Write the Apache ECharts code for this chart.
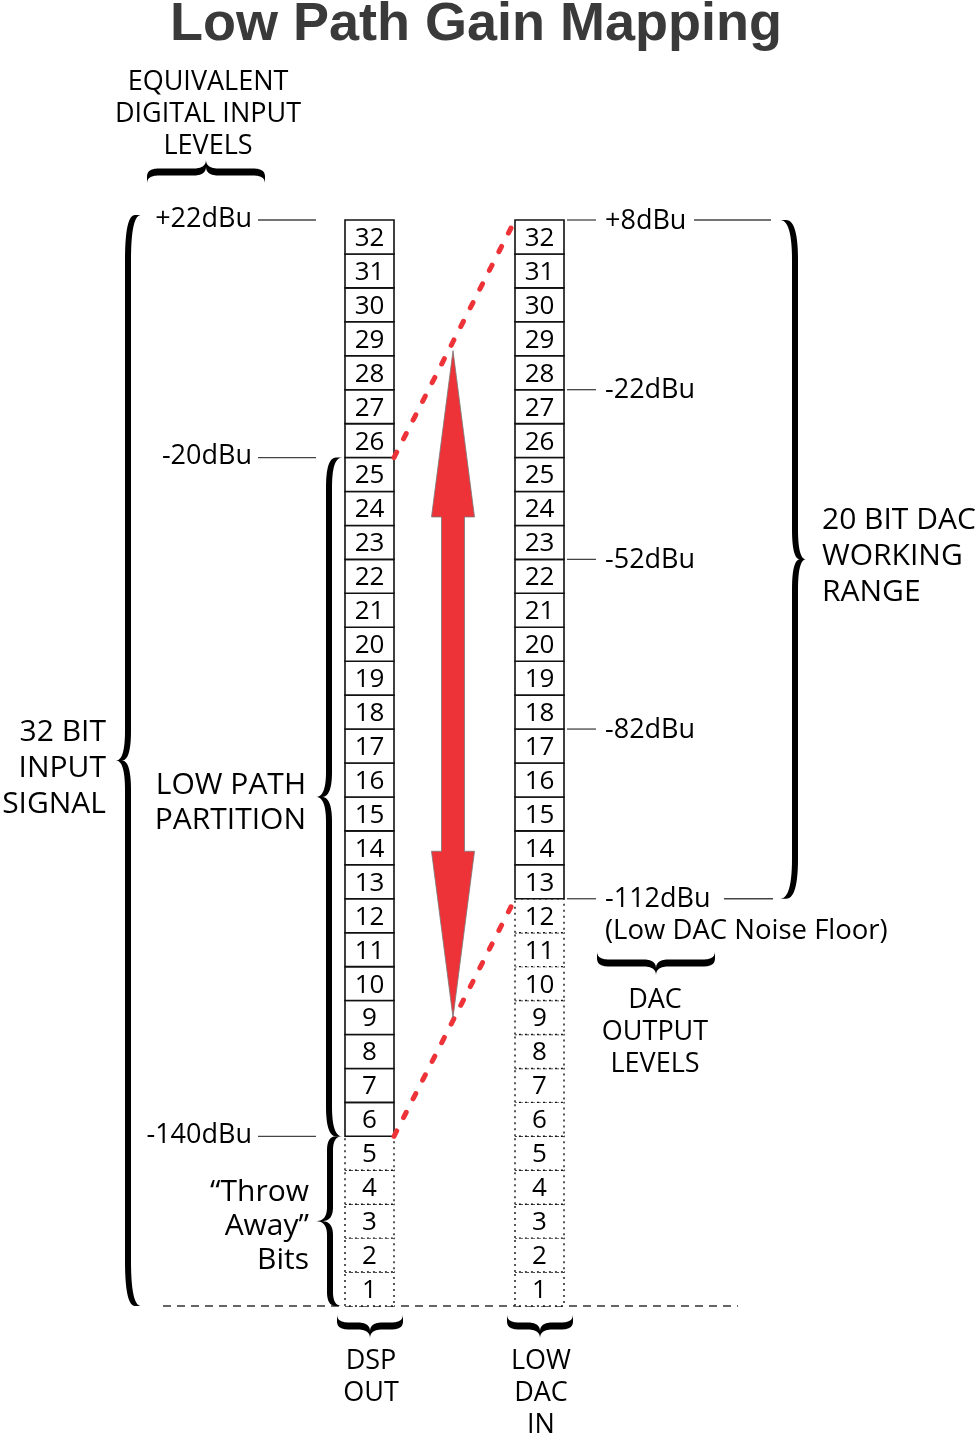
<!DOCTYPE html>
<html>
<head>
<meta charset="utf-8">
<script src="https://cdn.jsdelivr.net/npm/echarts@6/dist/echarts.min.js"></script>
<style>
  html, body { margin: 0; padding: 0; background: #fff; }
  #main { width: 980px; height: 1434px; }
</style>
</head>
<body>
<div id="main"></div>
<script>
// ---- data ----
var bitNumbers = [1, 2, 3, 4, 5, 6, 7, 8, 9, 10, 11, 12, 13, 14, 15, 16,
                  17, 18, 19, 20, 21, 22, 23, 24, 25, 26, 27, 28, 29, 30, 31, 32];
var dspFirstUsedBit = 6;   // bits 1-5 are "throw away"
var dacFirstUsedBit = 13;  // bits 1-12 below DAC noise floor
var inputLevelBits = [32, 25, 5];
var inputLevelLabels = ['+22dBu', '-20dBu', '-140dBu'];
var outputLevelBits = [32, 27, 22, 17, 12];
var outputLevelLabels = ['+8dBu', '-22dBu', '-52dBu', '-82dBu', '-112dBu'];
var mappingFromBits = [25, 5];   // DSP side
var mappingToBits = [32, 12];    // DAC side
var arrowLevels = [28.15, 23.25, 13.4, 8.5]; // tip, head base, head base, tip
var braceSpans = [[0, 32], [5, 25], [0, 5], [12, 32]];

// ---- layout ----
var FONT = '"Open Sans", sans-serif';
var RED = '#ee3338';
var columns = [[345, 394], [515, 564]];
var firstUsed = [dspFirstUsedBit, dacFirstUsedBit];
var outputTails = { 0: [694, 771], 4: [724, 773] };

var chart = echarts.init(document.getElementById('main'));

var cellData = [];
columns.forEach(function (c, ci) {
  bitNumbers.forEach(function (b) { cellData.push([ci, b]); });
});

function renderCell(params, api) {
  var ci = api.value(0), bit = api.value(1), col = columns[ci];
  var tl = api.coord([col[0], bit]);
  var br = api.coord([col[1], bit - 1]);
  var used = bit >= firstUsed[ci];
  return {
    type: 'group',
    children: [{
      type: 'rect',
      shape: { x: tl[0], y: tl[1], width: br[0] - tl[0], height: br[1] - tl[1] },
      style: { fill: '#fff', stroke: '#111', lineWidth: used ? 1.6 : 1.4, lineDash: used ? null : [2, 4] }
    }, {
      type: 'text',
      style: {
        text: String(bit), x: (tl[0] + br[0]) / 2, y: (tl[1] + br[1]) / 2 + 1.5,
        align: 'center', verticalAlign: 'middle', font: '26px ' + FONT, fill: '#000'
      }
    }]
  };
}

function renderInputLevel(params, api) {
  var y = api.coord([0, api.value(0)])[1];
  return {
    type: 'group',
    children: [{
      type: 'line', shape: { x1: 258, y1: y, x2: 316, y2: y },
      style: { stroke: '#444', lineWidth: 1.3 }
    }, {
      type: 'text',
      style: {
        text: inputLevelLabels[params.dataIndex], x: 252, y: y - 1,
        align: 'right', verticalAlign: 'middle', font: '27px ' + FONT, fill: '#000'
      }
    }]
  };
}

function renderOutputLevel(params, api) {
  var y = api.coord([0, api.value(0)])[1];
  var kids = [{
    type: 'line', shape: { x1: 567, y1: y, x2: 596, y2: y },
    style: { stroke: '#444', lineWidth: 1.3 }
  }, {
    type: 'text',
    style: {
      text: outputLevelLabels[params.dataIndex], x: 605, y: y + 1,
      align: 'left', verticalAlign: 'middle', font: '27px ' + FONT, fill: '#000'
    }
  }];
  var tail = outputTails[params.dataIndex];
  if (tail) {
    kids.push({
      type: 'line', shape: { x1: tail[0], y1: y, x2: tail[1], y2: y },
      style: { stroke: '#444', lineWidth: 1.3 }
    });
  }
  return { type: 'group', children: kids };
}

function renderMapping(params, api) {
  var a = api.coord([columns[0][1], api.value(0)]);
  var b = api.coord([columns[1][0], api.value(1)]);
  return {
    type: 'line',
    shape: { x1: a[0], y1: a[1], x2: b[0] - 4, y2: b[1] + 8 },
    style: { stroke: RED, lineWidth: 5, lineDash: [6, 15], lineCap: 'round' }
  };
}

function renderArrow(params, api) {
  var cx = 453, hw = 21.5, sw = 11.5;
  var y = [0, 1, 2, 3].map(function (i) { return api.coord([cx, api.value(i)])[1]; });
  var pts = [
    [cx, y[0]], [cx + hw, y[1]], [cx + sw, y[1]], [cx + sw, y[2]], [cx + hw, y[2]],
    [cx, y[3]], [cx - hw, y[2]], [cx - sw, y[2]], [cx - sw, y[1]], [cx - hw, y[1]]
  ];
  return {
    type: 'polygon', shape: { points: pts },
    style: { fill: RED, stroke: '#777', lineWidth: 0.8 }
  };
}

// brace centre line: u along the brace, c across (curls at +w, tip at -d)
function braceLine(L, w, d, r, r2) {
  var pts = [[0, w]];
  function quad(p0, p1, p2) {
    for (var i = 1; i <= 14; i++) {
      var t = i / 14, a = (1 - t) * (1 - t), b = 2 * t * (1 - t), e = t * t;
      pts.push([a * p0[0] + b * p1[0] + e * p2[0], a * p0[1] + b * p1[1] + e * p2[1]]);
    }
  }
  quad([0, w], [0, 0], [r, 0]);
  pts.push([L / 2 - r2, 0]);
  quad([L / 2 - r2, 0], [L / 2, 0], [L / 2, -d]);
  quad([L / 2, -d], [L / 2, 0], [L / 2 + r2, 0]);
  pts.push([L - r, 0]);
  quad([L - r, 0], [L, 0], [L, w]);
  return pts;
}

function bracePolygon(start, end, spine, dir, w, d, r, r2, h) {
  // dir: 'left' | 'right' (vertical braces), 'up' | 'down' (horizontal braces)
  var line = braceLine(end - start, w, d, r, r2);
  function map(u, c) {
    if (dir === 'left') return [spine + c, start + u];
    if (dir === 'right') return [spine - c, start + u];
    if (dir === 'up') return [start + u, spine + c];
    return [start + u, spine - c];
  }
  var outer = line.map(function (p) { return map(p[0], p[1] - h); });
  var inner = line.map(function (p) { return map(p[0], p[1] + h); }).reverse();
  return {
    type: 'polygon', shape: { points: outer.concat(inner) },
    style: { fill: '#000' }
  };
}

// vertical braces follow the bit scale, horizontal ones sit under labels
var verticalBraces = [
  { spine: 128, dir: 'left', w: 10, d: 9, r: 45, r2: 30, extraTop: 5 },
  { spine: 329, dir: 'left', w: 10, d: 10, r: 30, r2: 25, extraTop: 0 },
  { spine: 330, dir: 'left', w: 9, d: 11, r: 14, r2: 14, extraTop: 0 },
  { spine: 795, dir: 'right', w: 12, d: 8, r: 40, r2: 30, extraTop: 0 }
];
var horizontalBraces = [
  { x1: 147, x2: 265, spine: 172, dir: 'up' },
  { x1: 597, x2: 715, spine: 963, dir: 'down' },
  { x1: 337, x2: 403, spine: 1326, dir: 'down' },
  { x1: 507, x2: 573, spine: 1326, dir: 'down' }
];

function renderBraces(params, api) {
  var kids = verticalBraces.map(function (b, i) {
    var top = api.coord([0, braceSpans[i][1]])[1] - b.extraTop;
    var bottom = api.coord([0, braceSpans[i][0]])[1];
    return bracePolygon(top, bottom, b.spine, b.dir, b.w, b.d, b.r, b.r2, 3);
  });
  horizontalBraces.forEach(function (b) {
    kids.push(bracePolygon(b.x1, b.x2, b.spine, b.dir, 8, 9, 12, 12, 3.5));
  });
  return { type: 'group', children: kids };
}

function renderBaseline(params, api) {
  var y = api.coord([0, api.value(0)])[1];
  return {
    type: 'line', shape: { x1: 163, y1: y, x2: 738, y2: y },
    style: { stroke: '#333', lineWidth: 1.4, lineDash: [8, 6] }
  };
}

// free text notes
var notes = [
  { lines: ['EQUIVALENT', 'DIGITAL INPUT', 'LEVELS'], x: 208, y: 82, step: 32, align: 'center', size: 27 },
  { lines: ['32 BIT', 'INPUT', 'SIGNAL'], x: 106, y: 732, step: 36, align: 'right', size: 30 },
  { lines: ['LOW PATH', 'PARTITION'], x: 306, y: 785, step: 35, align: 'right', size: 30 },
  { lines: ['\u201cThrow', 'Away\u201d', 'Bits'], x: 309, y: 1192, step: 34, align: 'right', size: 30 },
  { lines: ['20 BIT DAC', 'WORKING', 'RANGE'], x: 822, y: 520, step: 36, align: 'left', size: 30 },
  { lines: ['(Low DAC Noise Floor)'], x: 605, y: 931, step: 0, align: 'left', size: 27.5 },
  { lines: ['DAC', 'OUTPUT', 'LEVELS'], x: 655, y: 1000, step: 32, align: 'center', size: 27 },
  { lines: ['DSP', 'OUT'], x: 371, y: 1361, step: 32, align: 'center', size: 27 },
  { lines: ['LOW', 'DAC', 'IN'], x: 541, y: 1361, step: 32, align: 'center', size: 27 }
];
var graphics = [];
notes.forEach(function (n) {
  n.lines.forEach(function (t, i) {
    graphics.push({
      type: 'text', x: n.x, y: n.y + i * n.step, silent: true,
      style: { text: t, align: n.align, verticalAlign: 'middle', font: n.size + 'px ' + FONT, fill: '#000' }
    });
  });
});
graphics.push({
  type: 'text', x: 476, y: 25, silent: true,
  style: {
    text: 'Low Path Gain Mapping', align: 'center', verticalAlign: 'middle',
    font: 'bold 54px "Liberation Sans", Arial, sans-serif', fill: '#3a3a3a'
  }
});

var option = {
  animation: false,
  grid: { left: 0, right: 0, top: 220, bottom: 128 },
  xAxis: { type: 'value', min: 0, max: 980, show: false },
  yAxis: { type: 'value', min: 0, max: 32, show: false },
  graphic: graphics,
  series: [
    { type: 'custom', name: 'baseline', clip: false, silent: true, renderItem: renderBaseline, data: [[0]] },
    { type: 'custom', name: 'cells', clip: false, silent: true, renderItem: renderCell, data: cellData },
    {
      type: 'custom', name: 'input levels', clip: false, silent: true, renderItem: renderInputLevel,
      data: inputLevelBits.map(function (b) { return [b]; })
    },
    {
      type: 'custom', name: 'output levels', clip: false, silent: true, renderItem: renderOutputLevel,
      data: outputLevelBits.map(function (b) { return [b]; })
    },
    {
      type: 'custom', name: 'mapping', clip: false, silent: true, renderItem: renderMapping,
      data: mappingFromBits.map(function (b, i) { return [b, mappingToBits[i]]; })
    },
    { type: 'custom', name: 'arrow', clip: false, silent: true, renderItem: renderArrow, data: [arrowLevels] },
    { type: 'custom', name: 'braces', clip: false, silent: true, renderItem: renderBraces, data: [[0]] }
  ]
};

chart.setOption(option);
</script>
</body>
</html>
